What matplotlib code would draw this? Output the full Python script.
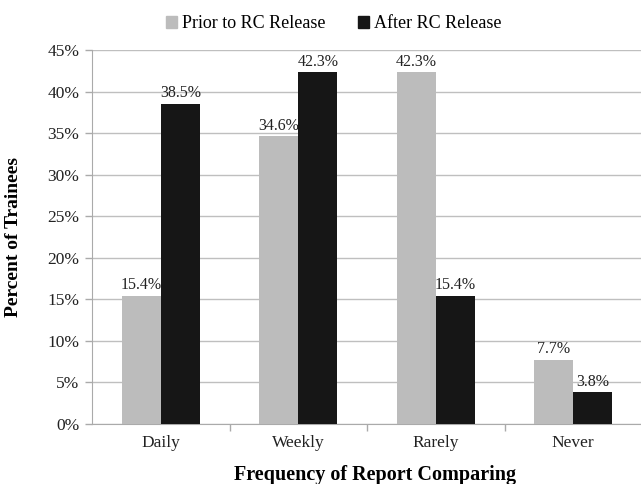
import matplotlib
matplotlib.use("Agg")
import matplotlib.pyplot as plt
import numpy as np
from matplotlib.ticker import FuncFormatter, MultipleLocator, FixedLocator
from matplotlib.patches import Patch

plt.rcParams['font.family'] = ['Liberation Serif', 'DejaVu Serif']

categories = ["Daily", "Weekly", "Rarely", "Never"]
series_names = ["Prior to RC Release", "After RC Release"]
prior = [15.4, 34.6, 42.3, 7.7]
after = [38.5, 42.3, 15.4, 3.8]
colors = ["#bcbcbc", "#161616"]

fig = plt.figure(figsize=(6.41, 4.84), dpi=100)
ax = fig.add_axes([92/641, 1-424/484, 550/641, (424-50)/484])

x = np.arange(len(categories))
w = 0.285
for vals, off, c in [(prior, -w/2, colors[0]), (after, w/2, colors[1])]:
    bars = ax.bar(x + off, vals, width=w, color=c, zorder=3)
    for b, v in zip(bars, vals):
        ax.annotate(f"{v:.1f}%", (b.get_x() + b.get_width()/2, v),
                    xytext=(0, 2), textcoords="offset points",
                    ha="center", va="bottom", fontsize=11.5, color="#222222")

ax.set_xlim(-0.5, len(categories) - 0.5)
ax.set_ylim(0, 45)
ax.yaxis.set_major_locator(MultipleLocator(5))
ax.yaxis.set_major_formatter(FuncFormatter(lambda v, p: f"{v:.0f}%"))
ax.grid(axis="y", color="#bfbfbf", linewidth=1.0, zorder=0)
ax.set_axisbelow(True)

ax.set_xticks(x)
ax.set_xticklabels(categories)
ax.xaxis.set_minor_locator(FixedLocator([0.5, 1.5, 2.5]))
ax.tick_params(axis="x", which="major", length=0, pad=8, labelsize=12.5, labelcolor="#222222")
ax.tick_params(axis="x", which="minor", length=5, color="#aaaaaa", width=1)
ax.tick_params(axis="y", which="major", length=5, color="#aaaaaa", width=1, pad=4,
               labelsize=12.5, labelcolor="#222222")

for s in ["top", "right"]:
    ax.spines[s].set_visible(False)
ax.spines["left"].set_color("#aaaaaa")
ax.spines["bottom"].set_color("#aaaaaa")

fig.text(14/641, 1-237/484, "Percent of Trainees", rotation=90, ha="center", va="center",
         fontsize=14, fontweight="bold")
fig.text(375/641, 1-475/484, "Frequency of Report Comparing", ha="center", va="center",
         fontsize=14.5, fontweight="bold")

handles = [Patch(color=colors[0]), Patch(color=colors[1])]
fig.legend(handles, series_names, loc="center", bbox_to_anchor=(334/641, 1-24/484),
           ncol=2, frameon=False, fontsize=13, handlelength=0.6, handleheight=0.6,
           handletextpad=0.3, columnspacing=1.8)

fig.savefig("out.png", dpi=100)
